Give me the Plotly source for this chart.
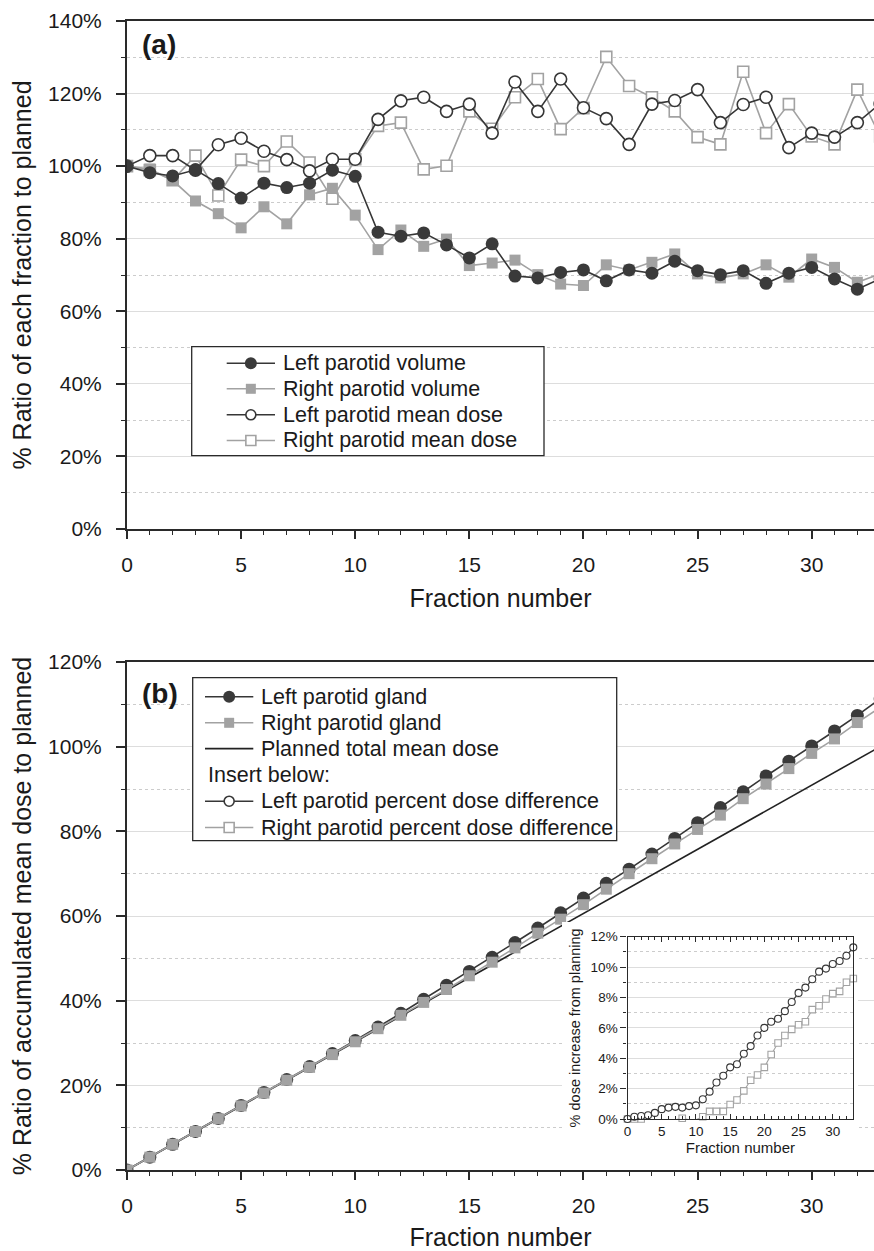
import plotly.graph_objects as go

# ---------------- data ----------------
fractions = list(range(34))

# panel (a): ratio of each fraction to planned (%)
left_volume = [100, 98.2, 97.3, 99.0, 95.2, 91.2, 95.3, 94.1, 95.3, 98.9, 97.2, 81.8, 80.7, 81.6,
               78.3, 74.7, 78.6, 69.7, 69.2, 70.7, 71.4, 68.4, 71.4, 70.5, 73.8, 71.2, 70.1, 71.2,
               67.7, 70.5, 72.1, 68.9, 66.1, 68.9]
right_volume = [100, 99.2, 96.1, 90.4, 86.9, 83.0, 88.8, 84.1, 92.1, 93.9, 86.5, 77.0, 82.4, 77.9,
                79.9, 72.6, 73.3, 74.1, 70.1, 67.5, 67.1, 72.8, 71.4, 73.5, 75.8, 70.3, 69.2, 70.3,
                72.8, 69.4, 74.4, 72.1, 68.0, 70.3]
left_mean_dose = [100, 102.9, 102.9, 98.9, 105.9, 107.7, 104.1, 101.8, 98.7, 101.9, 101.9, 112.9,
                  118.0, 119.0, 115.1, 117.1, 109.1, 123.2, 115.1, 124.0, 116.1, 113.1, 106.0,
                  117.1, 118.1, 121.1, 112.0, 117.0, 119.0, 105.1, 109.1, 108.0, 112.0, 117.2]
right_mean_dose = [100, 98.9, 96.1, 102.9, 91.9, 101.8, 100.0, 106.8, 101.0, 91.0, 101.9, 111.1,
                   112.0, 99.1, 100.1, 115.1, 110.3, 119.0, 124.0, 110.2, 116.0, 130.1, 122.1,
                   119.0, 115.1, 108.0, 106.0, 126.0, 109.1, 117.1, 108.2, 106.0, 121.1, 108.2]

# panel (b): accumulated mean dose to planned (%)
left_accum = [0, 3.03, 6.07, 9.11, 12.17, 15.25, 18.32, 21.38, 24.42, 27.50, 30.58, 33.77, 37.02,
              40.34, 43.63, 46.90, 50.23, 53.73, 57.17, 60.74, 64.24, 67.71, 71.07, 74.65, 78.33,
              82.04, 85.61, 89.35, 93.08, 96.58, 100.18, 103.71, 107.39, 111.30]
right_accum = [0, 3.03, 6.06, 9.09, 12.11, 15.14, 18.16, 21.20, 24.25, 27.26, 30.29, 33.38, 36.54,
               39.59, 42.63, 45.88, 49.09, 52.47, 55.94, 59.25, 62.67, 66.34, 70.00, 73.53, 77.02,
               80.45, 83.83, 87.71, 91.17, 94.82, 98.41, 101.83, 105.70, 109.25]
planned_x = [0, 33]
planned_y = [0, 100]

# inset: percent dose increase from planning
left_diff = [0, 0.15, 0.2, 0.25, 0.4, 0.65, 0.75, 0.8, 0.75, 0.85, 0.9, 1.3, 1.8, 2.4, 2.85, 3.4,
             3.6, 4.3, 4.8, 5.5, 6.0, 6.4, 6.6, 7.1, 7.7, 8.3, 8.65, 9.2, 9.7, 9.9, 10.2, 10.4,
             10.75, 11.3]
right_diff = [0, 0, 0, -0.05, -0.1, -0.1, -0.1, -0.05, 0.05, -0.05, -0.05, 0.15, 0.5, 0.5, 0.5,
              0.95, 1.25, 1.85, 2.55, 2.9, 3.4, 4.25, 5.0, 5.5, 5.9, 6.2, 6.4, 7.2, 7.45, 7.9,
              8.25, 8.4, 9.0, 9.25]

legend_a_names = ["Left parotid volume", "Right parotid volume",
                  "Left parotid mean dose", "Right parotid mean dose"]
legend_b_names = ["Left parotid gland", "Right parotid gland", "Planned total mean dose",
                  "Insert below:", "Left parotid percent dose difference",
                  "Right parotid percent dose difference"]

# ---------------- styling ----------------
W, H = 874, 1251
ML, MR, MT, MB = 127, 0, 21, 81
PW, PH = W - ML - MR, H - MT - MB
FONT = "Liberation Sans, Arial, Helvetica, sans-serif"
TXT = "#1a1a1a"
DARK = "#363636"
DARKFILL = "#3a3a3a"
GRAY = "#a2a2a2"
GRID = "#dddddd"
MINGRID = "#cccccc"
AXC = "#2a2a2a"


def px(x):
    return (x - ML) / PW


def py(y):
    return 1 - (y - MT) / PH


fig = go.Figure()

styles = [
    dict(line=dict(color=DARK, width=1.6), marker=dict(symbol="circle", size=13, color=DARKFILL, line=dict(width=0))),
    dict(line=dict(color=GRAY, width=1.6), marker=dict(symbol="square", size=11, color=GRAY, line=dict(width=0))),
    dict(line=dict(color=DARK, width=1.6), marker=dict(symbol="circle", size=12, color="white", line=dict(color=DARK, width=1.6))),
    dict(line=dict(color=GRAY, width=1.6), marker=dict(symbol="square", size=11, color="white", line=dict(color=GRAY, width=1.6))),
]

series_a = [left_volume, right_volume, left_mean_dose, right_mean_dose]
order_a = [3, 2, 1, 0]
for i in order_a:
    fig.add_trace(go.Scatter(x=fractions, y=series_a[i], mode="lines+markers", name=legend_a_names[i],
                             showlegend=False, xaxis="x", yaxis="y", **styles[i]))

# panel (b)
fig.add_trace(go.Scatter(x=planned_x, y=planned_y, mode="lines", name=legend_b_names[2],
                         line=dict(color="#222222", width=1.6), showlegend=False, xaxis="x2", yaxis="y2"))
fig.add_trace(go.Scatter(x=fractions, y=left_accum, mode="lines+markers", name=legend_b_names[0],
                         showlegend=False, xaxis="x2", yaxis="y2", **styles[0]))
fig.add_trace(go.Scatter(x=fractions, y=right_accum, mode="lines+markers", name=legend_b_names[1],
                         showlegend=False, xaxis="x2", yaxis="y2", **styles[1]))

# white box behind inset (covers main gridlines)
fig.add_trace(go.Scatter(x=[], y=[], xaxis="x3", yaxis="y3", showlegend=False, hoverinfo="skip"))

# inset
fig.add_trace(go.Scatter(x=fractions, y=right_diff, mode="lines+markers", name=legend_b_names[5],
                         showlegend=False, xaxis="x4", yaxis="y4", cliponaxis=False,
                         line=dict(color=GRAY, width=1.1),
                         marker=dict(symbol="square", size=6.5, color="white", line=dict(color=GRAY, width=1.1))))
fig.add_trace(go.Scatter(x=fractions, y=left_diff, mode="lines+markers", name=legend_b_names[4],
                         showlegend=False, xaxis="x4", yaxis="y4", cliponaxis=False,
                         line=dict(color=DARK, width=1.1),
                         marker=dict(symbol="circle", size=7, color="white", line=dict(color=DARK, width=1.1))))

# ---------------- axes ----------------
tickfont = dict(family=FONT, size=21, color=TXT)
titlefont = dict(family=FONT, size=25, color=TXT)
XR = [0, 32.73]


def main_x(domain_anchor):
    return dict(range=XR, anchor=domain_anchor, domain=[0, 1], dtick=5, tick0=0, ticks="outside",
                ticklen=8, tickwidth=1.5, tickcolor=AXC, showline=True, linecolor=AXC, linewidth=2,
                mirror=True, showgrid=False, zeroline=False, tickfont=tickfont,
                ticklabelstandoff=8,
                minor=dict(dtick=1, ticks="outside", ticklen=4, tickwidth=1.2, tickcolor=AXC, showgrid=False),
                title=dict(text="Fraction number", font=titlefont, standoff=14))


def top_x(overlay, anchor):
    return dict(range=XR, overlaying=overlay, anchor=anchor, side="top", dtick=1, tick0=0,
                ticks="inside", ticklen=3, tickwidth=1, tickcolor=AXC, showticklabels=False,
                showline=False, showgrid=False, zeroline=False)


def main_y(rng, dtick, domain, anchor, title):
    return dict(range=rng, domain=domain, anchor=anchor, dtick=dtick, tick0=0, ticksuffix="%",
                ticks="outside", ticklen=9, tickwidth=1.5, tickcolor=AXC, showline=True, linecolor=AXC,
                linewidth=2, showgrid=True, gridcolor=GRID, gridwidth=1, zeroline=False,
                tickfont=tickfont, ticklabelstandoff=10,
                minor=dict(dtick=dtick / 2, ticks="outside", ticklen=4, tickwidth=1.2, tickcolor=AXC,
                           showgrid=True, gridcolor=MINGRID, griddash="dot", gridwidth=1),
                title=dict(text=title, font=titlefont, standoff=9))


dom_a = [py(529), 1.0]
dom_b = [0.0, py(662)]

fig.update_layout(
    xaxis=main_x("y"),
    yaxis=main_y([0, 140], 20, dom_a, "x", "% Ratio of each fraction to planned"),
    xaxis2=main_x("y2"),
    yaxis2=main_y([0, 120], 20, dom_b, "x2", "% Ratio of accumulated mean dose to planned"),
    xaxis3=dict(domain=[px(562), px(858)], anchor="y3", visible=False, range=[0, 1]),
    yaxis3=dict(domain=[py(1168), py(922)], anchor="x3", visible=False, range=[0, 1]),
    xaxis4=dict(domain=[px(627.5), px(853.3)], anchor="y4", range=[0, 33], dtick=5, tick0=0,
                ticks="inside", ticklen=5, tickwidth=1, tickcolor=AXC, showline=True, linecolor=AXC,
                linewidth=1.3, mirror="ticks", showgrid=False, zeroline=False,
                tickfont=dict(family=FONT, size=13.5, color=TXT),
                minor=dict(dtick=1, ticks="inside", ticklen=3, tickwidth=1, tickcolor=AXC, showgrid=False),
                title=dict(text="Fraction number", font=dict(family=FONT, size=15, color=TXT), standoff=2)),
    yaxis4=dict(domain=[py(1119), py(936.7)], anchor="x4", range=[0, 12], dtick=2, tick0=0,
                ticksuffix="%", ticks="outside", ticklen=6, tickwidth=1, tickcolor=AXC, showline=True,
                linecolor=AXC, linewidth=1.3, mirror=True, showgrid=True, gridcolor=GRID,
                zeroline=False, tickfont=dict(family=FONT, size=13.5, color=TXT),
                minor=dict(dtick=1, ticks="outside", ticklen=3, tickwidth=1, tickcolor=AXC,
                           showgrid=True, gridcolor=MINGRID, griddash="dot"),
                title=dict(text="% dose increase from planning", font=dict(family=FONT, size=14.5, color=TXT),
                           standoff=6)),
    xaxis5=top_x("x", "y"),
    xaxis6=top_x("x2", "y2"),
)

# ---------------- manual legends ----------------
shapes = []
annotations = []


def legend_box(x0, y0, x1, y1):
    shapes.append(dict(type="rect", xref="paper", yref="paper", x0=px(x0), x1=px(x1), y0=py(y1), y1=py(y0),
                       line=dict(color="#2a2a2a", width=1.3), fillcolor="white", layer="above"))


def legend_item(y, xl0, xl1, xt, text, style, fsize=21.5):
    if style is not None:
        lc = style["line"]["color"]
        shapes.append(dict(type="line", xref="paper", yref="paper", x0=px(xl0), x1=px(xl1), y0=py(y), y1=py(y),
                           line=dict(color=lc, width=1.6), layer="above"))
        m = style.get("marker")
        if m is not None:
            xc = px((xl0 + xl1) / 2)
            r = m["size"] / 2
            shp = "circle" if m["symbol"] == "circle" else "rect"
            lw = m["line"].get("width", 0)
            shapes.append(dict(type=shp, xref="paper", yref="paper", xsizemode="pixel", ysizemode="pixel",
                               xanchor=xc, yanchor=py(y), x0=-r, x1=r, y0=-r, y1=r,
                               fillcolor=m["color"],
                               line=dict(color=m["line"].get("color", m["color"]), width=lw if lw else 0),
                               layer="above"))
    annotations.append(dict(xref="paper", yref="paper", x=px(xt), y=py(y), xanchor="left", yanchor="middle",
                            text=text, showarrow=False, font=dict(family=FONT, size=fsize, color=TXT)))


# legend (a)
legend_box(191.7, 346.7, 544, 455.7)
rows_a = [363.3, 388.8, 414.8, 440.5]
for k, i in enumerate([0, 1, 2, 3]):
    st = dict(styles[i])
    mk = dict(st["marker"])
    mk["size"] = 12 if mk["symbol"] == "circle" else 10
    if mk["color"] == "white":
        mk["size"] = 10
    st["marker"] = mk
    legend_item(rows_a[k], 226.7, 275, 280.5, legend_a_names[i], st)

# legend (b)
legend_box(192.7, 677.7, 616.7, 840.7)
rows_b = [696.7, 722.8, 748.6, 774.6, 801.2, 827.5]
leg_b_styles = [styles[0], styles[1], dict(line=dict(color="#222222"), marker=None), None,
                styles[2], styles[3]]
for k in range(6):
    st = leg_b_styles[k]
    if st is not None and st.get("marker") is not None:
        st = dict(st)
        mk = dict(st["marker"])
        mk["size"] = 12 if (mk["symbol"] == "circle" and mk["color"] != "white") else 10
        st["marker"] = mk
    if st is None:
        legend_item(rows_b[k], 0, 0, 205.5, legend_b_names[k], None)
    else:
        legend_item(rows_b[k], 205, 253.3, 259, legend_b_names[k], st)

# panel labels
annotations.append(dict(xref="paper", yref="paper", x=px(140), y=py(45), xanchor="left", yanchor="middle",
                        text="<b>(a)</b>", showarrow=False, font=dict(family=FONT, size=28, color=TXT)))
annotations.append(dict(xref="paper", yref="paper", x=px(140), y=py(693), xanchor="left", yanchor="middle",
                        text="<b>(b)</b>", showarrow=False, font=dict(family=FONT, size=28, color=TXT)))

fig.update_layout(
    width=W, height=H,
    margin=dict(l=ML, r=MR, t=MT, b=MB, pad=0),
    paper_bgcolor="white", plot_bgcolor="white",
    showlegend=False,
    shapes=shapes, annotations=annotations,
    font=dict(family=FONT, color=TXT),
)

fig.write_html("out.html")
